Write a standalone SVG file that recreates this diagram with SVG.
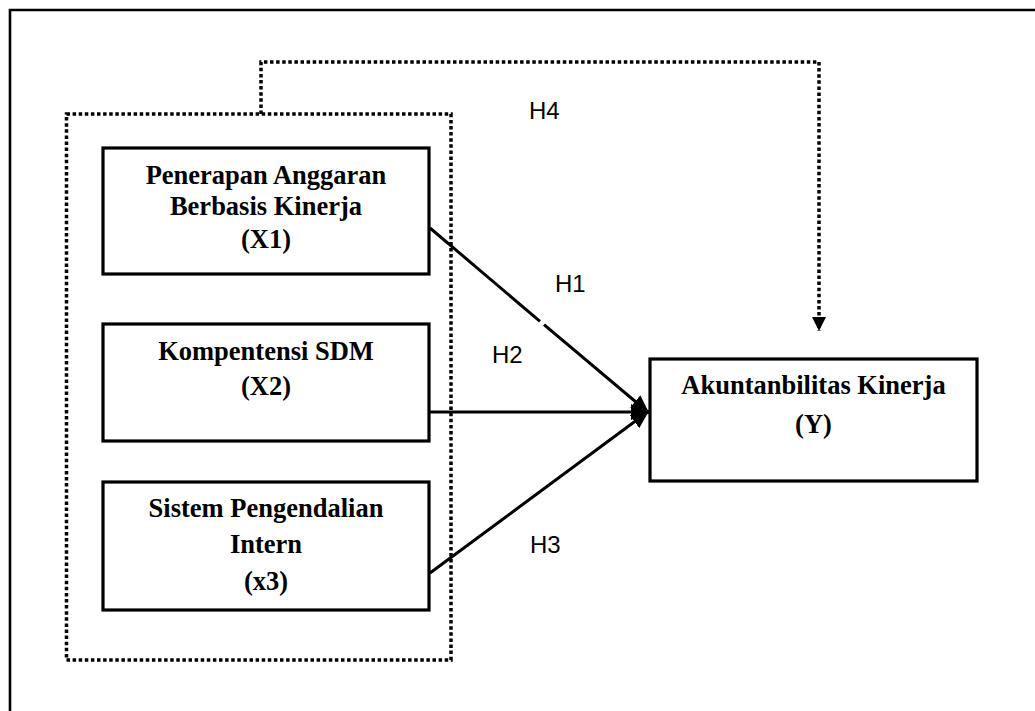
<svg xmlns="http://www.w3.org/2000/svg" width="1035" height="711" viewBox="0 0 1035 711">
<defs>
<style>
.node rect{fill:#fff;stroke:#000;stroke-width:3.2}
.node text{font-family:"Liberation Serif","Times New Roman",serif;font-weight:bold;font-size:26.5px;text-anchor:middle;fill:#000}
.conn{stroke:#000;stroke-width:3;fill:none}
.dot{stroke:#000;stroke-width:3.5;fill:none;stroke-dasharray:3.5 2.6}
.lbl{font-family:"Liberation Sans",Arial,sans-serif;font-size:24px;fill:#000}
</style>
<marker id="ah" markerUnits="userSpaceOnUse" markerWidth="18" markerHeight="16" viewBox="0 0 18 16" refX="18" refY="8" orient="auto">
<path d="M0,0 L18,8 L0,16 Z" fill="#000"/>
</marker>
<marker id="ahd" markerUnits="userSpaceOnUse" markerWidth="14" markerHeight="14" viewBox="0 0 14 14" refX="14" refY="7" orient="auto">
<path d="M0,0 L14,7 L0,14 Z" fill="#000"/>
</marker>
</defs>
<rect width="1035" height="711" fill="#fff"/>
<path d="M10,711 V10 H1035" fill="none" stroke="#000" stroke-width="2.6"/>
<rect id="group-x" x="66.5" y="114" width="384.5" height="546" class="dot"/>
<g id="connectors">
<path class="dot" d="M261,114 V62 H819 V331" marker-end="url(#ahd)"/>
<line class="conn" x1="430" y1="228" x2="540" y2="321.3"/>
<line class="conn" x1="544" y1="324.7" x2="649" y2="413" marker-end="url(#ah)"/>
<line class="conn" x1="430" y1="412" x2="649" y2="412" marker-end="url(#ah)"/>
<line class="conn" x1="430" y1="573" x2="649" y2="411" marker-end="url(#ah)"/>
</g>
<g id="x1" class="node">
<rect x="103" y="148" width="326" height="126"/>
<text x="266" y="184">Penerapan Anggaran</text>
<text x="266" y="215">Berbasis Kinerja</text>
<text x="266" y="248">(X1)</text>
</g>
<g id="x2" class="node">
<rect x="103" y="324" width="326" height="117"/>
<text x="266" y="360">Kompentensi SDM</text>
<text x="266" y="395">(X2)</text>
</g>
<g id="x3" class="node">
<rect x="103" y="482" width="326" height="128"/>
<text x="266" y="517">Sistem Pengendalian</text>
<text x="266" y="553">Intern</text>
<text x="266" y="590">(x3)</text>
</g>
<g id="y" class="node">
<rect x="650" y="359" width="327" height="122"/>
<text x="813.5" y="394">Akuntanbilitas Kinerja</text>
<text x="813.5" y="433">(Y)</text>
</g>
<g id="labels">
<text class="lbl" x="529" y="119">H4</text>
<text class="lbl" x="555" y="292">H1</text>
<text class="lbl" x="492" y="363">H2</text>
<text class="lbl" x="530" y="553">H3</text>
</g>
</svg>
